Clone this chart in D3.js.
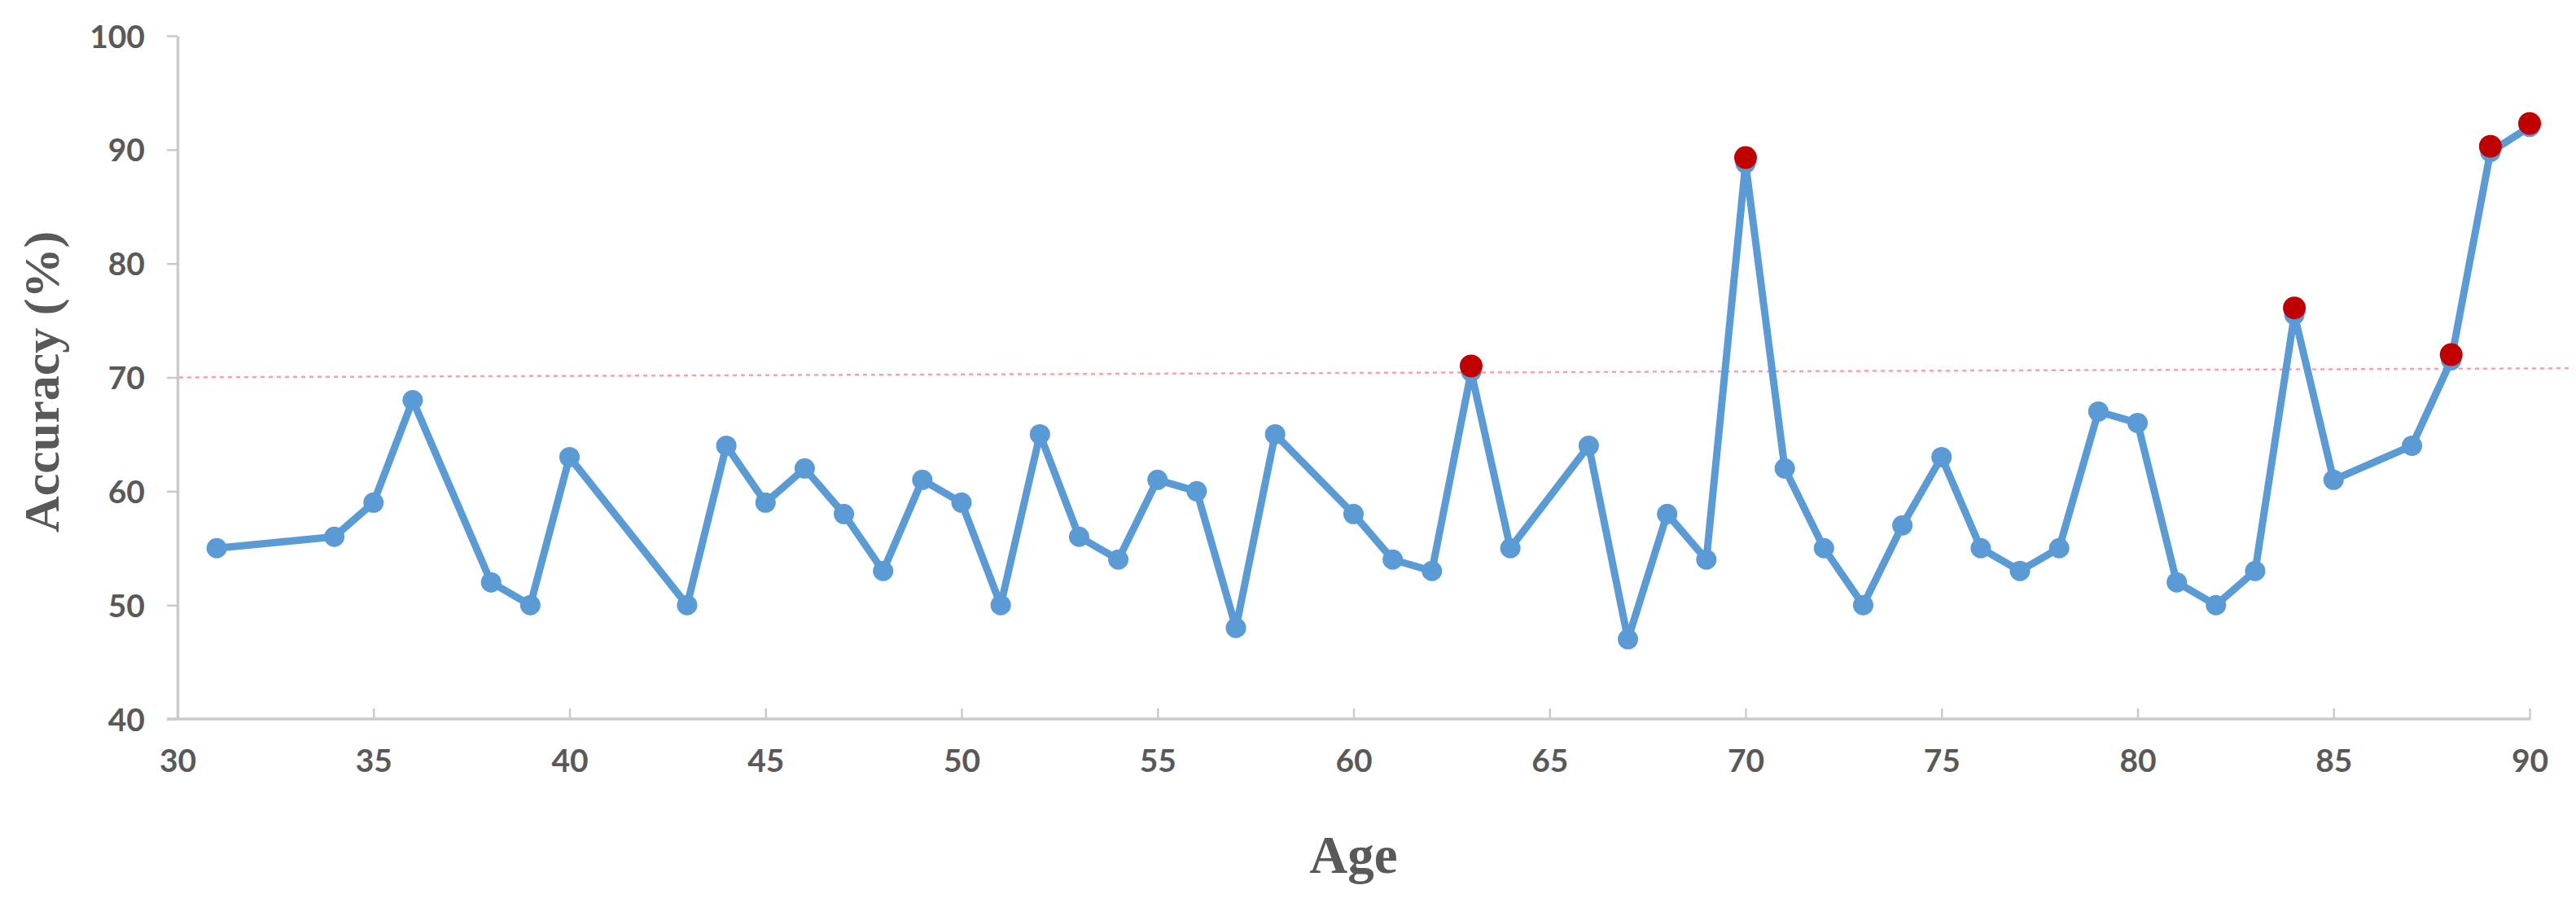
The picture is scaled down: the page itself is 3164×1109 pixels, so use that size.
<!DOCTYPE html>
<html>
<head>
<meta charset="utf-8">
<script src="https://cdn.jsdelivr.net/npm/d3@7"></script>
<style>
  html, body { margin: 0; padding: 0; background: #ffffff; }
  svg { display: block; }
</style>
</head>
<body>
<svg id="chart" width="3164" height="1109"></svg>
<script>
// ---- data ----
const ages = [31,34,35,36,38,39,40,43,44,45,46,47,48,49,50,51,52,53,54,55,56,57,58,60,61,62,63,64,66,67,68,69,70,71,72,73,74,75,76,77,78,79,80,81,82,83,84,85,87,88,89,90];
const accuracy = [55,56,59,68,52,50,63,50,64,59,62,58,53,61,59,50,65,56,54,61,60,48,65,58,54,53,70.5,55,64,47,58,54,88.8,62,55,50,57,63,55,53,55,67,66,52,50,53,75.5,61,64,71.5,89.8,92];
const highlightAges = [63,70,84,88,89,90];
const highlightAccuracy = [71,89.3,76.1,72,90.3,92.3];
const thresholdAges = [30,91];
const thresholdAccuracy = [70,70.8];
const xTicks = [30,35,40,45,50,55,60,65,70,75,80,85,90];
const yTicks = [40,50,60,70,80,90,100];
const xTitle = "Age";
const yTitle = "Accuracy (%)";

// ---- layout ----
(function () {
const svg = d3.select("#chart");
const mLeft = 218, mRight = 3107, mTop = 44, mBottom = 883;
const x = d3.scaleLinear().domain([30, 90]).range([mLeft, mRight]);
const y = d3.scaleLinear().domain([40, 100]).range([mBottom, mTop]);

const axisColor = "#cbcbcb";
const labelColor = "#595959";
const tickFont = "Lato, 'Noto Sans', sans-serif";

// x axis (ticks inward)
const xAxis = svg.append("g")
  .attr("transform", `translate(0,${mBottom})`)
  .call(d3.axisBottom(x).tickValues(xTicks).tickSizeInner(-13).tickSizeOuter(0).tickPadding(40).tickFormat(d3.format("d")));
xAxis.select(".domain").remove();
xAxis.append("line").attr("x1", mLeft - 13).attr("x2", mRight + 1.5).attr("y1", 0).attr("y2", 0)
  .attr("stroke", axisColor).attr("stroke-width", 3.5);
xAxis.selectAll(".tick line").attr("stroke", axisColor).attr("stroke-width", 2.5);
xAxis.selectAll(".tick").filter(d => d === 30).select("line").remove();
xAxis.selectAll(".tick text")
  .attr("fill", labelColor).attr("font-family", tickFont).attr("font-weight", 700).attr("font-size", 39)
  .attr("dy", "0.32em").attr("y", 53);

// y axis (ticks outward)
const yAxis = svg.append("g")
  .attr("transform", `translate(${mLeft},0)`)
  .call(d3.axisLeft(y).tickValues(yTicks).tickSizeInner(13).tickSizeOuter(0).tickPadding(27).tickFormat(d3.format("d")));
yAxis.select(".domain").attr("stroke", axisColor).attr("stroke-width", 3.5);
yAxis.selectAll(".tick line").attr("stroke", axisColor).attr("stroke-width", 2.5);
yAxis.selectAll(".tick text")
  .attr("fill", labelColor).attr("font-family", tickFont).attr("font-weight", 700).attr("font-size", 39)
  .attr("dy", "0.36em");

// threshold dashed line
svg.append("line")
  .attr("x1", x(thresholdAges[0]) + 2).attr("y1", y(thresholdAccuracy[0]))
  .attr("x2", x(thresholdAges[1])).attr("y2", y(thresholdAccuracy[1]))
  .attr("stroke", "#f2a3ab").attr("stroke-width", 2.5).attr("stroke-dasharray", "5,5");

// series line
const pts = ages.map((a, i) => [a, accuracy[i]]);
svg.append("path")
  .datum(pts)
  .attr("d", d3.line().x(d => x(d[0])).y(d => y(d[1])))
  .attr("fill", "none").attr("stroke", "#5b9bd5").attr("stroke-width", 9)
  .attr("stroke-linejoin", "round").attr("stroke-linecap", "round");

svg.append("g").selectAll("circle").data(pts).join("circle")
  .attr("cx", d => x(d[0])).attr("cy", d => y(d[1])).attr("r", 12.5)
  .attr("fill", "#5b9bd5");

// highlighted points
const hpts = highlightAges.map((a, i) => [a, highlightAccuracy[i]]);
svg.append("g").selectAll("circle").data(hpts).join("circle")
  .attr("cx", d => x(d[0])).attr("cy", d => y(d[1])).attr("r", 14)
  .attr("fill", "#c00000");

// axis titles
svg.append("text")
  .attr("x", (mLeft + mRight) / 2).attr("y", 1072)
  .attr("text-anchor", "middle")
  .attr("font-family", "'Liberation Serif', 'DejaVu Serif', serif").attr("font-weight", 700)
  .attr("font-size", 65).attr("fill", labelColor)
  .text(xTitle);

svg.append("text")
  .attr("transform", `translate(72,469) rotate(-90)`)
  .attr("text-anchor", "middle")
  .attr("font-family", "'Liberation Serif', 'DejaVu Serif', serif").attr("font-weight", 700)
  .attr("font-size", 62).attr("fill", labelColor)
  .text(yTitle);
})();
</script>
</body>
</html>
